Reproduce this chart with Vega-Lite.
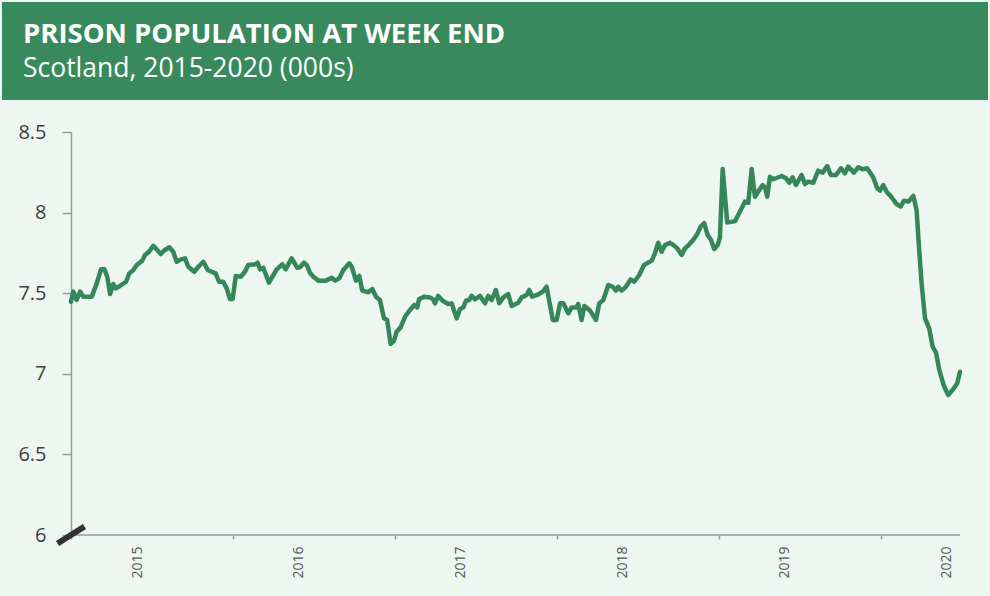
{
 "$schema": "https://vega.github.io/schema/vega-lite/v6.json",
 "background": "#EEF6F1",
 "padding": {"left": 2, "top": 2, "right": 2, "bottom": 17},
 "spacing": 0,
 "config": {"view": {"stroke": null}, "font": "Open Sans"},
 "vconcat": [
  {
   "width": 986,
   "height": 98,
   "view": {"fill": "#388A5C", "stroke": null},
   "title": {
    "text": "PRISON POPULATION AT WEEK END",
    "subtitle": "Scotland, 2015-2020 (000s)",
    "anchor": "start",
    "frame": "group",
    "orient": "top",
    "offset": -80,
    "dx": 21,
    "color": "#FFFFFF",
    "subtitleColor": "#FFFFFF",
    "font": "Open Sans",
    "subtitleFont": "Open Sans",
    "fontSize": 27.5,
    "fontWeight": "bold",
    "subtitleFontSize": 26.5,
    "subtitleFontWeight": "normal",
    "subtitlePadding": 7.5
   },
   "data": {"values": []},
   "mark": "point"
  },
  {
   "width": 958,
   "height": 403,
   "layer": [
    {
     "data": {"values": [
      {"year": 2015.000, "pop": 7.447},
      {"year": 2015.014, "pop": 7.510},
      {"year": 2015.035, "pop": 7.458},
      {"year": 2015.056, "pop": 7.510},
      {"year": 2015.076, "pop": 7.478},
      {"year": 2015.128, "pop": 7.478},
      {"year": 2015.159, "pop": 7.561},
      {"year": 2015.185, "pop": 7.648},
      {"year": 2015.206, "pop": 7.648},
      {"year": 2015.224, "pop": 7.602},
      {"year": 2015.241, "pop": 7.495},
      {"year": 2015.261, "pop": 7.557},
      {"year": 2015.276, "pop": 7.530},
      {"year": 2015.302, "pop": 7.545},
      {"year": 2015.340, "pop": 7.571},
      {"year": 2015.360, "pop": 7.623},
      {"year": 2015.385, "pop": 7.644},
      {"year": 2015.406, "pop": 7.675},
      {"year": 2015.440, "pop": 7.702},
      {"year": 2015.457, "pop": 7.737},
      {"year": 2015.481, "pop": 7.757},
      {"year": 2015.508, "pop": 7.793},
      {"year": 2015.529, "pop": 7.772},
      {"year": 2015.554, "pop": 7.743},
      {"year": 2015.574, "pop": 7.764},
      {"year": 2015.607, "pop": 7.785},
      {"year": 2015.631, "pop": 7.757},
      {"year": 2015.652, "pop": 7.695},
      {"year": 2015.679, "pop": 7.710},
      {"year": 2015.704, "pop": 7.716},
      {"year": 2015.724, "pop": 7.664},
      {"year": 2015.761, "pop": 7.633},
      {"year": 2015.786, "pop": 7.664},
      {"year": 2015.817, "pop": 7.695},
      {"year": 2015.844, "pop": 7.644},
      {"year": 2015.869, "pop": 7.633},
      {"year": 2015.893, "pop": 7.623},
      {"year": 2015.914, "pop": 7.571},
      {"year": 2015.940, "pop": 7.571},
      {"year": 2015.961, "pop": 7.530},
      {"year": 2015.981, "pop": 7.464},
      {"year": 2015.998, "pop": 7.464},
      {"year": 2016.017, "pop": 7.607},
      {"year": 2016.048, "pop": 7.602},
      {"year": 2016.074, "pop": 7.633},
      {"year": 2016.094, "pop": 7.675},
      {"year": 2016.140, "pop": 7.679},
      {"year": 2016.152, "pop": 7.689},
      {"year": 2016.167, "pop": 7.648},
      {"year": 2016.187, "pop": 7.658},
      {"year": 2016.222, "pop": 7.565},
      {"year": 2016.270, "pop": 7.648},
      {"year": 2016.304, "pop": 7.679},
      {"year": 2016.325, "pop": 7.648},
      {"year": 2016.362, "pop": 7.716},
      {"year": 2016.397, "pop": 7.658},
      {"year": 2016.414, "pop": 7.661},
      {"year": 2016.438, "pop": 7.689},
      {"year": 2016.455, "pop": 7.675},
      {"year": 2016.475, "pop": 7.627},
      {"year": 2016.496, "pop": 7.602},
      {"year": 2016.527, "pop": 7.578},
      {"year": 2016.574, "pop": 7.578},
      {"year": 2016.609, "pop": 7.596},
      {"year": 2016.630, "pop": 7.578},
      {"year": 2016.656, "pop": 7.592},
      {"year": 2016.681, "pop": 7.644},
      {"year": 2016.718, "pop": 7.685},
      {"year": 2016.733, "pop": 7.664},
      {"year": 2016.759, "pop": 7.578},
      {"year": 2016.780, "pop": 7.607},
      {"year": 2016.798, "pop": 7.516},
      {"year": 2016.835, "pop": 7.506},
      {"year": 2016.860, "pop": 7.526},
      {"year": 2016.883, "pop": 7.478},
      {"year": 2016.907, "pop": 7.458},
      {"year": 2016.932, "pop": 7.344},
      {"year": 2016.952, "pop": 7.334},
      {"year": 2016.973, "pop": 7.185},
      {"year": 2016.994, "pop": 7.205},
      {"year": 2017.010, "pop": 7.261},
      {"year": 2017.035, "pop": 7.288},
      {"year": 2017.062, "pop": 7.354},
      {"year": 2017.093, "pop": 7.396},
      {"year": 2017.119, "pop": 7.427},
      {"year": 2017.138, "pop": 7.412},
      {"year": 2017.148, "pop": 7.462},
      {"year": 2017.179, "pop": 7.478},
      {"year": 2017.216, "pop": 7.474},
      {"year": 2017.236, "pop": 7.462},
      {"year": 2017.247, "pop": 7.437},
      {"year": 2017.267, "pop": 7.483},
      {"year": 2017.294, "pop": 7.453},
      {"year": 2017.329, "pop": 7.433},
      {"year": 2017.350, "pop": 7.437},
      {"year": 2017.381, "pop": 7.344},
      {"year": 2017.401, "pop": 7.400},
      {"year": 2017.422, "pop": 7.412},
      {"year": 2017.438, "pop": 7.453},
      {"year": 2017.459, "pop": 7.458},
      {"year": 2017.473, "pop": 7.483},
      {"year": 2017.494, "pop": 7.462},
      {"year": 2017.525, "pop": 7.483},
      {"year": 2017.556, "pop": 7.437},
      {"year": 2017.576, "pop": 7.483},
      {"year": 2017.597, "pop": 7.458},
      {"year": 2017.623, "pop": 7.520},
      {"year": 2017.644, "pop": 7.437},
      {"year": 2017.669, "pop": 7.474},
      {"year": 2017.699, "pop": 7.495},
      {"year": 2017.720, "pop": 7.421},
      {"year": 2017.761, "pop": 7.441},
      {"year": 2017.782, "pop": 7.474},
      {"year": 2017.813, "pop": 7.489},
      {"year": 2017.829, "pop": 7.520},
      {"year": 2017.847, "pop": 7.478},
      {"year": 2017.878, "pop": 7.489},
      {"year": 2017.912, "pop": 7.509},
      {"year": 2017.936, "pop": 7.540},
      {"year": 2017.974, "pop": 7.334},
      {"year": 2017.998, "pop": 7.334},
      {"year": 2018.019, "pop": 7.437},
      {"year": 2018.039, "pop": 7.437},
      {"year": 2018.070, "pop": 7.375},
      {"year": 2018.091, "pop": 7.412},
      {"year": 2018.122, "pop": 7.412},
      {"year": 2018.131, "pop": 7.433},
      {"year": 2018.152, "pop": 7.334},
      {"year": 2018.169, "pop": 7.421},
      {"year": 2018.204, "pop": 7.392},
      {"year": 2018.241, "pop": 7.334},
      {"year": 2018.261, "pop": 7.437},
      {"year": 2018.286, "pop": 7.458},
      {"year": 2018.317, "pop": 7.551},
      {"year": 2018.344, "pop": 7.540},
      {"year": 2018.364, "pop": 7.516},
      {"year": 2018.378, "pop": 7.540},
      {"year": 2018.399, "pop": 7.516},
      {"year": 2018.426, "pop": 7.540},
      {"year": 2018.455, "pop": 7.586},
      {"year": 2018.477, "pop": 7.571},
      {"year": 2018.508, "pop": 7.613},
      {"year": 2018.537, "pop": 7.675},
      {"year": 2018.585, "pop": 7.702},
      {"year": 2018.605, "pop": 7.748},
      {"year": 2018.625, "pop": 7.813},
      {"year": 2018.646, "pop": 7.757},
      {"year": 2018.667, "pop": 7.799},
      {"year": 2018.698, "pop": 7.813},
      {"year": 2018.718, "pop": 7.799},
      {"year": 2018.743, "pop": 7.778},
      {"year": 2018.770, "pop": 7.737},
      {"year": 2018.790, "pop": 7.778},
      {"year": 2018.817, "pop": 7.803},
      {"year": 2018.841, "pop": 7.830},
      {"year": 2018.866, "pop": 7.867},
      {"year": 2018.887, "pop": 7.913},
      {"year": 2018.909, "pop": 7.934},
      {"year": 2018.930, "pop": 7.861},
      {"year": 2018.951, "pop": 7.830},
      {"year": 2018.971, "pop": 7.774},
      {"year": 2018.992, "pop": 7.799},
      {"year": 2019.006, "pop": 7.847},
      {"year": 2019.023, "pop": 8.270},
      {"year": 2019.051, "pop": 7.938},
      {"year": 2019.099, "pop": 7.947},
      {"year": 2019.119, "pop": 7.985},
      {"year": 2019.160, "pop": 8.068},
      {"year": 2019.181, "pop": 8.061},
      {"year": 2019.202, "pop": 8.270},
      {"year": 2019.222, "pop": 8.099},
      {"year": 2019.249, "pop": 8.140},
      {"year": 2019.270, "pop": 8.171},
      {"year": 2019.284, "pop": 8.157},
      {"year": 2019.298, "pop": 8.099},
      {"year": 2019.315, "pop": 8.223},
      {"year": 2019.335, "pop": 8.207},
      {"year": 2019.387, "pop": 8.227},
      {"year": 2019.414, "pop": 8.213},
      {"year": 2019.434, "pop": 8.185},
      {"year": 2019.455, "pop": 8.219},
      {"year": 2019.475, "pop": 8.171},
      {"year": 2019.510, "pop": 8.233},
      {"year": 2019.531, "pop": 8.177},
      {"year": 2019.551, "pop": 8.192},
      {"year": 2019.582, "pop": 8.185},
      {"year": 2019.613, "pop": 8.260},
      {"year": 2019.640, "pop": 8.248},
      {"year": 2019.669, "pop": 8.289},
      {"year": 2019.690, "pop": 8.233},
      {"year": 2019.722, "pop": 8.233},
      {"year": 2019.753, "pop": 8.275},
      {"year": 2019.778, "pop": 8.244},
      {"year": 2019.798, "pop": 8.285},
      {"year": 2019.833, "pop": 8.248},
      {"year": 2019.860, "pop": 8.281},
      {"year": 2019.887, "pop": 8.269},
      {"year": 2019.915, "pop": 8.275},
      {"year": 2019.952, "pop": 8.219},
      {"year": 2019.977, "pop": 8.151},
      {"year": 2019.994, "pop": 8.136},
      {"year": 2020.014, "pop": 8.171},
      {"year": 2020.035, "pop": 8.130},
      {"year": 2020.066, "pop": 8.095},
      {"year": 2020.097, "pop": 8.053},
      {"year": 2020.122, "pop": 8.037},
      {"year": 2020.142, "pop": 8.074},
      {"year": 2020.169, "pop": 8.068},
      {"year": 2020.200, "pop": 8.103},
      {"year": 2020.220, "pop": 8.016},
      {"year": 2020.236, "pop": 7.768},
      {"year": 2020.251, "pop": 7.561},
      {"year": 2020.272, "pop": 7.344},
      {"year": 2020.298, "pop": 7.282},
      {"year": 2020.319, "pop": 7.168},
      {"year": 2020.340, "pop": 7.131},
      {"year": 2020.360, "pop": 7.024},
      {"year": 2020.389, "pop": 6.924},
      {"year": 2020.415, "pop": 6.868},
      {"year": 2020.446, "pop": 6.904},
      {"year": 2020.471, "pop": 6.941},
      {"year": 2020.488, "pop": 7.013}
     ]},
     "mark": {"type": "line", "color": "#35875A", "strokeWidth": 4.5, "strokeJoin": "round", "strokeCap": "round"},
     "encoding": {
      "x": {
       "field": "year", "type": "quantitative",
       "scale": {"domain": [2014.574, 2020.488], "nice": false, "zero": false},
       "axis": {
        "values": [2015, 2016, 2017, 2018, 2019, 2020],
        "format": "d",
        "labelAngle": -90,
        "labelOffset": 66,
        "labelPadding": 7,
        "labelFontSize": 14,
        "labelFont": "Open Sans",
        "labelColor": "#555555",
        "tickSize": 4,
        "tickColor": "#9a9a9a",
        "tickWidth": 1.5,
        "domain": false,
        "grid": false,
        "title": null,
        "labelFlush": false,
        "labelOverlap": false,
        "labelBound": false
       }
      },
      "y": {
       "field": "pop", "type": "quantitative",
       "scale": {"domain": [6, 8.5], "nice": false, "zero": false},
       "axis": {
        "values": [6, 6.5, 7, 7.5, 8, 8.5],
        "format": "~g",
        "offset": -69,
        "labelFontSize": 20,
        "labelFont": "Open Sans",
        "labelColor": "#3d3d3d",
        "labelPadding": 16,
        "tickSize": 9,
        "tickColor": "#9a9a9a",
        "tickWidth": 1.5,
        "domainColor": "#9a9a9a",
        "domainWidth": 1.5,
        "grid": false,
        "labelFlush": false,
        "title": "\u00a0",
        "titleX": -20,
        "titleY": -32,
        "titleAngle": 0,
        "titleAlign": "left",
        "titleBaseline": "top",
        "titleFontSize": 8,
        "titleColor": "#EEF6F1"
       }
      }
     }
    },
    {
     "data": {"values": [{}]},
     "mark": {"type": "rule", "color": "#9a9a9a", "strokeWidth": 1.5},
     "encoding": {
      "x": {"datum": 2015, "type": "quantitative"},
      "x2": {"datum": 2020.488},
      "y": {"datum": 6, "type": "quantitative"}
     }
    },
    {
     "data": {"values": [{}]},
     "mark": {"type": "point", "shape": "M-1,0.63L1,-0.63", "filled": false, "stroke": "#333333", "strokeWidth": 6, "size": 729, "opacity": 1, "strokeCap": "butt"},
     "encoding": {
      "x": {"datum": 2015, "type": "quantitative"},
      "y": {"datum": 6, "type": "quantitative"}
     }
    }
   ]
  }
 ]
}
